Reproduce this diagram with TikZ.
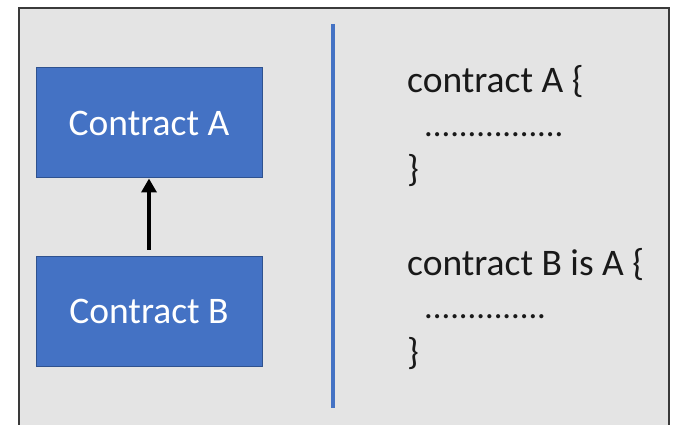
\documentclass[tikz,border=0pt]{standalone}
\usepackage{fontspec}
\setmainfont{Carlito}
\usetikzlibrary{arrows.meta}
\definecolor{boxblue}{HTML}{4472C4}
\definecolor{boxedge}{HTML}{2F528F}
\definecolor{panel}{HTML}{E4E4E4}
\definecolor{frame}{HTML}{3A3A3A}
\tikzset{
  cbox/.style={draw=boxedge, line width=1pt, fill=boxblue, minimum width=226pt, minimum height=110pt, inner sep=0pt, text=white, font=\fontsize{37.5}{44}\selectfont},
  code/.style={anchor=base west, inner sep=0pt, text=black!90, font=\fontsize{37.5}{44}\selectfont},
  dots/.style={code, font=\fontsize{34.5}{40}\selectfont},
}
\begin{document}
\begin{tikzpicture}[x=1pt,y=-1pt]
\useasboundingbox (0,0) rectangle (673,425);
\fill[white] (0,0) rectangle (673,425);
\draw[frame, line width=2.2pt, fill=panel] (19,8) -- (19,440) -- (669,440) -- (669,8) -- cycle;
\node[cbox] (A) at (149,123) {Contract A};
\node[cbox] (B) at (149,311.5) {Contract B};
\draw[black, line width=3.5pt, -{Triangle[length=14pt,width=15pt]}] (B.north) ++(0,-6) coordinate (bs) (bs) -- (A.south);
\coordinate (lt) at (333,24);
\coordinate (lb) at (333,408);
\draw[boxblue, line width=3.2pt] (lt) -- (lb);
\node[code] (c1) at (407,93) {contract A \{};
\node[dots] (d1) at (424,137) {................};
\node[code] (e1) at (407,182) {\}};
\node[code] (c2) at (407,276) {contract B is A \{};
\node[dots] (d2) at (424,319) {..............};
\node[code] (e2) at (407,364) {\}};
\end{tikzpicture}
\end{document}
